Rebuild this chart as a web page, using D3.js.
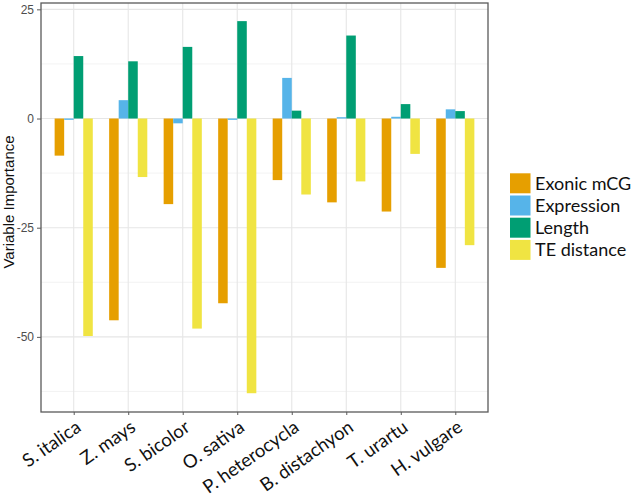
<!DOCTYPE html>
<html><head><meta charset="utf-8">
<script src="https://cdn.jsdelivr.net/npm/d3@7"></script>
<style>body{margin:0;background:#fff}svg{display:block}</style>
</head><body><svg id="c" width="633" height="500"></svg>
<script>
const species = ["S. italica","Z. mays","S. bicolor","O. sativa","P. heterocycla","B. distachyon","T. urartu","H. vulgare"];
const seriesNames = ["Exonic mCG","Expression","Length","TE distance"];
const exonicMCG = [-8.5,-46.2,-19.6,-42.3,-14.1,-19.2,-21.3,-34.2];
const expression = [-0.3,4.2,-1.1,-0.3,9.3,0.3,0.4,2.1];
const lengthVals = [14.3,13.1,16.4,22.3,1.8,19.0,3.3,1.7];
const teDistance = [-49.8,-13.4,-48.1,-62.9,-17.4,-14.4,-8.1,-29.0];
const colors = ["#E69F00","#56B4E9","#009E73","#F0E442"];
const yTicks = [25,0,-25,-50];
const yMinor = [12.5,-12.5,-37.5,-62.5];

const seriesVals = [exonicMCG, expression, lengthVals, teDistance];
const svg = d3.select("#c");
const L = 41, R = 488, T = 3, B = 412;

const x = d3.scalePoint().domain(species).range([L, R]).padding(0.6);
const step = x.step();
const y = d3.scaleLinear().domain([-67.2, 26.45]).range([B, T]);
const inner = d3.scaleBand().domain(seriesNames).range([-0.35*step, 0.35*step]).padding(0);

const g = svg.append("g");
// grid
g.selectAll(".ymin").data(yMinor).join("line")
  .attr("x1", L).attr("x2", R).attr("y1", d=>y(d)).attr("y2", d=>y(d))
  .attr("stroke", "#f0f0f0").attr("stroke-width", 0.8);
g.selectAll(".ymaj").data(yTicks).join("line")
  .attr("x1", L).attr("x2", R).attr("y1", d=>y(d)).attr("y2", d=>y(d))
  .attr("stroke", "#e6e6e6").attr("stroke-width", 1.1);
g.selectAll(".xmaj").data(species).join("line")
  .attr("x1", d=>x(d)).attr("x2", d=>x(d)).attr("y1", T).attr("y2", B)
  .attr("stroke", "#e6e6e6").attr("stroke-width", 1.1);

// bars
seriesNames.forEach((s, si) => {
  g.append("g").selectAll("rect").data(species).join("rect")
    .attr("x", (d) => x(d) + inner(s))
    .attr("width", inner.bandwidth())
    .attr("y", (d, i) => y(Math.max(0, seriesVals[si][i])))
    .attr("height", (d, i) => Math.abs(y(seriesVals[si][i]) - y(0)))
    .attr("fill", colors[si]);
});

// border
svg.append("rect").attr("x", L).attr("y", T).attr("width", R-L).attr("height", B-T)
  .attr("fill", "none").attr("stroke", "#5a5a5a").attr("stroke-width", 1.3);

// y axis
const ya = svg.append("g").attr("transform", `translate(${L},0)`)
  .call(d3.axisLeft(y).tickValues(yTicks).tickSize(4).tickPadding(3).tickFormat(d => String(d)));
ya.select(".domain").remove();
ya.selectAll("line").attr("stroke", "#5a5a5a");
ya.selectAll("text").attr("fill", "#4d4d4d").style("font-family", "Liberation Sans, Arial, sans-serif").style("font-size", "12px");

// x axis
const xa = svg.append("g").attr("transform", `translate(0,${B})`)
  .call(d3.axisBottom(x).tickSize(3).tickPadding(0));
xa.select(".domain").remove();
xa.selectAll("line").attr("stroke", "#5a5a5a");
xa.selectAll("text")
  .attr("text-anchor", "end")
  .attr("dy", "0")
  .attr("y", 0)
  .attr("transform", "translate(8,18) rotate(-35)")
  .attr("fill", "#111")
  .style("font-family", "Lato, sans-serif").style("font-size", "18.5px");

// y title
svg.append("text").attr("transform", `translate(13.5,202) rotate(-90)`)
  .attr("text-anchor", "middle").attr("fill", "#111")
  .style("font-family", "Liberation Sans, Arial, sans-serif").style("font-size", "15px")
  .text("Variable Importance");

// legend
const lg = svg.append("g").attr("transform", "translate(510,173.3)");
seriesNames.forEach((s, i) => {
  lg.append("rect").attr("x", 0).attr("y", i*22.2).attr("width", 20.5).attr("height", 20).attr("fill", colors[i]);
  lg.append("text").attr("x", 25).attr("y", i*22.2 + 10).attr("dy", "0.35em")
    .attr("fill", "#111").style("font-family", "Lato, sans-serif").style("font-size", "18px").text(s);
});
</script></body></html>
